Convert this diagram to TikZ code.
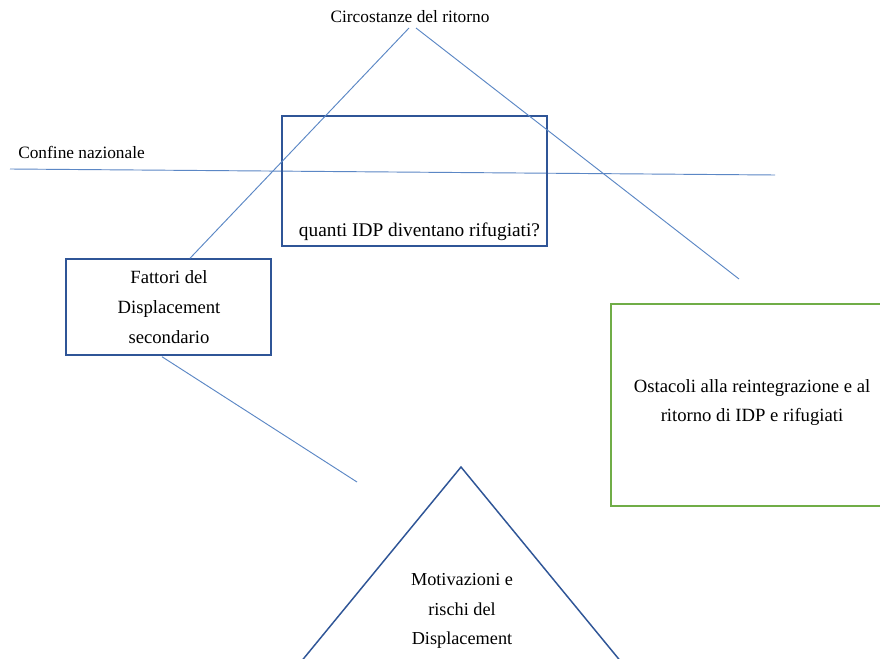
\documentclass[tikz,border=0pt]{standalone}
\usepackage{fontspec}
\setmainfont{Liberation Serif}
\usetikzlibrary{calc}
\definecolor{connblue}{RGB}{91,135,197}
\definecolor{boxblue}{RGB}{47,85,151}
\definecolor{boxgreen}{RGB}{112,173,71}
\begin{document}
\begin{tikzpicture}[x=0.75pt,y=-0.75pt,
  txt/.style={inner sep=0pt,font=\fontsize{13}{15}\selectfont},
  conn/.style={draw=connblue,line width=0.7pt},
  bluebox/.style={draw=boxblue,line width=1.1pt,inner sep=0pt},
  greenbox/.style={draw=boxgreen,line width=1.1pt,inner sep=0pt},
  multi/.style={align=center,inner sep=0pt,font=\fontsize{14}{22.5}\selectfont}]
\useasboundingbox (0,0) rectangle (880,659);
\clip (0,0) rectangle (880,659);
\fill[white] (0,0) rectangle (880,659);

% title
\node[txt] (top) at (410,17) {Circostanze del ritorno};
\coordinate (t1) at (409,28);
\coordinate (t2) at (416,28);

% border line
\coordinate (b1) at (10,169);
\coordinate (b2) at (775,175);
\node[txt,anchor=west] (confine) at (18,152) {Confine nazionale};
\draw[conn] (b1) -- (b2);

% upper box
\node[bluebox,minimum width=198.75pt,minimum height=97.5pt] (qbox) at (414.5,181) {};
\node[txt,font=\fontsize{14.5}{16}\selectfont] (qtext) at (419.5,232) {quanti IDP diventano rifugiati?};

% Fattori box
\node[bluebox,minimum width=153.75pt,minimum height=72pt] (fat) at (168.5,307) {};
\node[multi] (fattxt) at (169,307) {Fattori del\\Displacement\\secondario};

% green box
\node[greenbox,minimum width=213pt,minimum height=151.5pt] (ost) at (753,405) {};
\node[multi,font=\fontsize{14}{21.75}\selectfont] (osttxt) at (752,403) {Ostacoli alla reintegrazione e al\\ritorno di IDP e rifugiati};

% triangle
\coordinate (apex) at (461,467);
\coordinate (tl) at (286,680);
\coordinate (tr) at (636,680);
\draw[draw=boxblue,line width=1.1pt] (apex) -- (tl) -- (tr) -- cycle;
\node[multi,font=\fontsize{13.7}{22.1}\selectfont] (mot) at (462,611) {Motivazioni e\\rischi del\\Displacement};

% connectors
\coordinate (e2) at (739,279);
\coordinate (e3) at (357,482);
\draw[conn] (t1) -- ($(fat.north)+(21.5,0)$);
\draw[conn] (t2) -- (e2);
\draw[conn] ($(fat.south)+(-6.5,1)$) -- (e3);
\end{tikzpicture}
\end{document}
